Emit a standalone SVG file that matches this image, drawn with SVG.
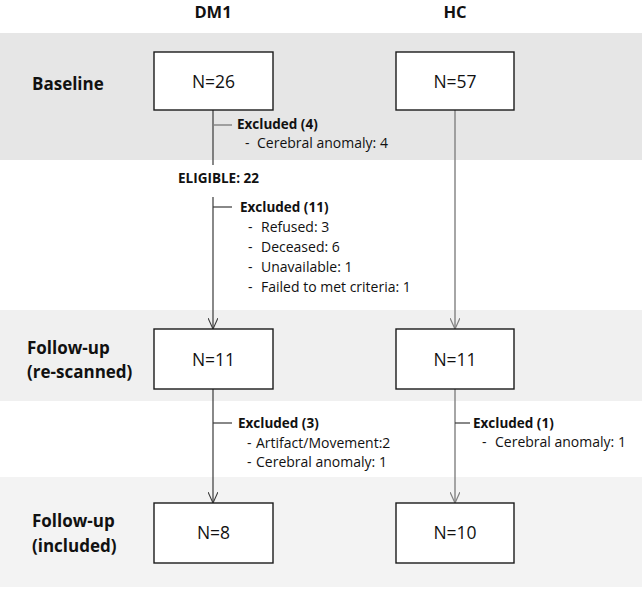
<svg xmlns="http://www.w3.org/2000/svg" width="642" height="589" viewBox="0 0 642 589">
<style>
text{font-family:"Open Sans","Liberation Sans",Arial,sans-serif;fill:#111}
.hd{font-size:16.5px;font-weight:bold;text-anchor:middle}
.row{font-size:17px;font-weight:bold}
.n{font-size:17.5px;text-anchor:middle}
.ex{font-size:13.5px;font-weight:bold}
.it{font-size:14px}
.box{fill:#fff;stroke:#1a1a1a;stroke-width:1.4}
.ln{stroke:#3a3a3a;stroke-width:1.2;fill:none}
.lh{stroke:#808080;stroke-width:1.4;fill:none}
</style>
<defs>
<marker id="arr" viewBox="0 0 10 12" refX="5" refY="11.5" markerWidth="10" markerHeight="12" markerUnits="userSpaceOnUse" orient="0">
<path d="M0,0.5 L5,11.5 L10,0.5" fill="none" stroke="#3a3a3a" stroke-width="1.1"/>
</marker>
<marker id="arrh" viewBox="0 0 10 12" refX="5" refY="11.5" markerWidth="10" markerHeight="12" markerUnits="userSpaceOnUse" orient="0">
<path d="M0,0.5 L5,11.5 L10,0.5" fill="none" stroke="#808080" stroke-width="1.2"/>
</marker>
</defs>
<rect x="0" y="33" width="642" height="127" fill="#e6e6e6"/>
<rect x="0" y="310" width="642" height="91" fill="#f0f0f0"/>
<rect x="0" y="477" width="642" height="110" fill="#f3f3f3"/>
<text class="hd" x="213" y="18">DM1</text>
<text class="hd" x="455" y="18">HC</text>
<text class="row" x="32" y="90">Baseline</text>
<text class="row" x="27" y="354">Follow-up</text>
<text class="row" x="27" y="378">(re-scanned)</text>
<text class="row" x="32" y="527">Follow-up</text>
<text class="row" x="32" y="552">(included)</text>
<g id="connectors">
<line class="ln" x1="213" y1="110" x2="213" y2="165"/>
<line class="ln" x1="213" y1="197" x2="213" y2="329" marker-end="url(#arr)"/>
<line class="lh" x1="455" y1="110" x2="455" y2="329" marker-end="url(#arrh)"/>
<line class="ln" x1="213" y1="389" x2="213" y2="503" marker-end="url(#arr)"/>
<line class="lh" x1="455" y1="389" x2="455" y2="503" marker-end="url(#arrh)"/>
<line class="lh" x1="213" y1="125" x2="232" y2="125"/>
<line class="ln" x1="213" y1="207" x2="232" y2="207"/>
<line class="ln" x1="213" y1="423" x2="232" y2="423"/>
<line class="ln" x1="455" y1="423" x2="470" y2="423"/>
</g>
<g id="n_dm1_base"><rect class="box" x="154" y="52" width="119" height="58"/><text class="n" x="213.5" y="88">N=26</text></g>
<g id="n_hc_base"><rect class="box" x="396" y="52" width="118" height="58"/><text class="n" x="455" y="88">N=57</text></g>
<g id="n_dm1_fu"><rect class="box" x="154" y="329" width="119" height="60"/><text class="n" x="213.5" y="366">N=11</text></g>
<g id="n_hc_fu"><rect class="box" x="396" y="329" width="118" height="60"/><text class="n" x="455" y="366">N=11</text></g>
<g id="n_dm1_inc"><rect class="box" x="154" y="503" width="119" height="60"/><text class="n" x="213.5" y="539">N=8</text></g>
<g id="n_hc_inc"><rect class="box" x="396" y="503" width="118" height="60"/><text class="n" x="455" y="539">N=10</text></g>
<g id="ex1"><text class="ex" x="237" y="129">Excluded (4)</text><text class="it" y="148"><tspan x="245">-</tspan><tspan x="257">Cerebral anomaly: 4</tspan></text></g>
<g id="elig"><text class="ex" x="178" y="183">ELIGIBLE: 22</text></g>
<g id="ex2"><text class="ex" x="240" y="212">Excluded (11)</text>
<text class="it" y="232"><tspan x="248">-</tspan><tspan x="261">Refused: 3</tspan></text>
<text class="it" y="252"><tspan x="248">-</tspan><tspan x="261">Deceased: 6</tspan></text>
<text class="it" y="272"><tspan x="248">-</tspan><tspan x="261">Unavailable: 1</tspan></text>
<text class="it" y="292"><tspan x="248">-</tspan><tspan x="261">Failed to met criteria: 1</tspan></text></g>
<g id="ex3"><text class="ex" x="238" y="428">Excluded (3)</text>
<text class="it" y="448"><tspan x="247">-</tspan><tspan x="256">Artifact/Movement:2</tspan></text>
<text class="it" y="467"><tspan x="247">-</tspan><tspan x="256">Cerebral anomaly: 1</tspan></text></g>
<g id="ex4"><text class="ex" x="473" y="428">Excluded (1)</text>
<text class="it" y="447"><tspan x="482">-</tspan><tspan x="495">Cerebral anomaly: 1</tspan></text></g>
</svg>
